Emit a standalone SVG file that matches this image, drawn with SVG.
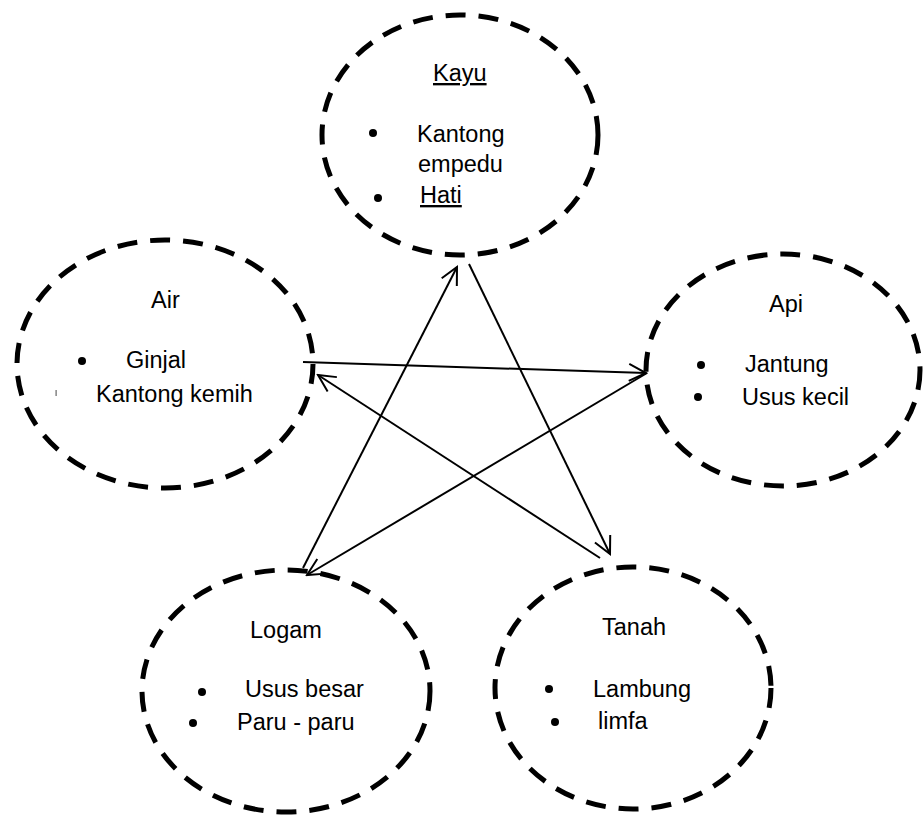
<svg xmlns="http://www.w3.org/2000/svg" width="923" height="817" viewBox="0 0 923 817">
<style>
.node ellipse{fill:none;stroke:#000;stroke-width:5;stroke-dasharray:20 13}
text{font-family:"Liberation Sans",Arial,sans-serif;font-size:23.5px;fill:#000}
.u{text-decoration:underline}
.b{fill:#000}
.conn line{stroke:#000;stroke-width:2;marker-end:url(#arr)}
</style>
<defs>
<marker id="arr" markerUnits="userSpaceOnUse" viewBox="-20 -11 22 22" refX="0" refY="0" markerWidth="22" markerHeight="22" orient="auto">
<path d="M-17,-8.5 L0,0 L-17,8.5" fill="none" stroke="#000" stroke-width="2"/>
</marker>
</defs>
<rect width="923" height="817" fill="#fff"/>
<g id="kayu" class="node">
<ellipse cx="460" cy="135" rx="138" ry="120"/>
<text x="433" y="81" class="u">Kayu</text>
<circle class="b" cx="373" cy="133" r="4"/>
<text x="417" y="142">Kantong</text>
<text x="418" y="172">empedu</text>
<circle class="b" cx="378" cy="198" r="4"/>
<text x="420" y="203" class="u">Hati</text>
</g>
<g id="air" class="node">
<ellipse cx="165" cy="364" rx="148" ry="124"/>
<text x="151" y="308">Air</text>
<circle class="b" cx="82" cy="361" r="4"/>
<text x="126" y="368">Ginjal</text>
<rect x="55.5" y="390" width="1.2" height="6" fill="#666"/>
<text x="96" y="402">Kantong kemih</text>
</g>
<g id="api" class="node">
<ellipse cx="783" cy="370" rx="137" ry="116"/>
<text x="769" y="312">Api</text>
<circle class="b" cx="701" cy="365" r="4"/>
<text x="745" y="372">Jantung</text>
<circle class="b" cx="698" cy="397" r="4"/>
<text x="742" y="405">Usus kecil</text>
</g>
<g id="logam" class="node">
<ellipse cx="286" cy="691" rx="144" ry="121"/>
<text x="250" y="638">Logam</text>
<circle class="b" cx="202" cy="692" r="4"/>
<text x="245" y="697">Usus besar</text>
<circle class="b" cx="193" cy="723" r="4"/>
<text x="237" y="730">Paru - paru</text>
</g>
<g id="tanah" class="node">
<ellipse cx="633" cy="688" rx="138" ry="121"/>
<text x="602" y="635">Tanah</text>
<circle class="b" cx="549" cy="689" r="4"/>
<text x="593" y="697">Lambung</text>
<circle class="b" cx="555" cy="722" r="4"/>
<text x="598" y="729">limfa</text>
</g>
<g id="connectors" class="conn">
<line x1="303" y1="568" x2="457" y2="267"/>
<line x1="469" y1="264" x2="610" y2="554"/>
<line x1="303" y1="362" x2="646" y2="373"/>
<line x1="600" y1="558" x2="318" y2="375"/>
<line x1="647" y1="373" x2="307" y2="575"/>
</g>
</svg>
